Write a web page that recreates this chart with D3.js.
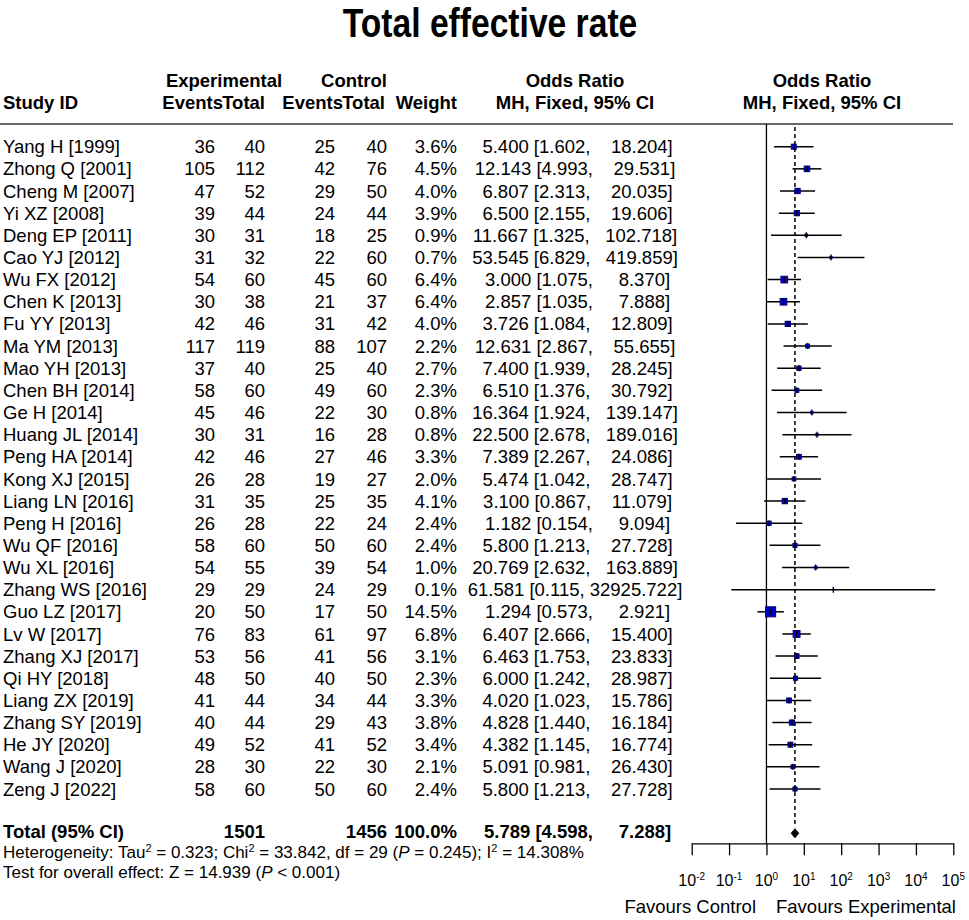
<!DOCTYPE html>
<html>
<head>
<meta charset="utf-8">
<script src="https://cdn.jsdelivr.net/npm/d3@7"></script>
<style>
  body { margin: 0; background: #fff; }
  svg { font-family: "Liberation Sans", Arial, Helvetica, sans-serif; font-size: 18.5px; }
  svg text { fill: #000; white-space: pre; }
</style>
</head>
<body>
<div id="chart"></div>
<script>
// data
const studies = ["Yang H [1999]", "Zhong Q [2001]", "Cheng M [2007]", "Yi XZ [2008]", "Deng EP [2011]",
  "Cao YJ [2012]", "Wu FX [2012]", "Chen K [2013]", "Fu YY [2013]", "Ma YM [2013]",
  "Mao YH [2013]", "Chen BH [2014]", "Ge H [2014]", "Huang JL [2014]", "Peng HA [2014]",
  "Kong XJ [2015]", "Liang LN [2016]", "Peng H [2016]", "Wu QF [2016]", "Wu XL [2016]",
  "Zhang WS [2016]", "Guo LZ [2017]", "Lv W [2017]", "Zhang XJ [2017]", "Qi HY [2018]",
  "Liang ZX [2019]", "Zhang SY [2019]", "He JY [2020]", "Wang J [2020]", "Zeng J [2022]"];
const expEvents = [36, 105, 47, 39, 30, 31, 54, 30, 42, 117, 37, 58, 45, 30, 42, 26, 31, 26, 58, 54, 29, 20, 76, 53, 48, 41, 40, 49, 28, 58];
const expTotal = [40, 112, 52, 44, 31, 32, 60, 38, 46, 119, 40, 60, 46, 31, 46, 28, 35, 28, 60, 55, 29, 50, 83, 56, 50, 44, 44, 52, 30, 60];
const ctrlEvents = [25, 42, 29, 24, 18, 22, 45, 21, 31, 88, 25, 49, 22, 16, 27, 19, 25, 22, 50, 39, 24, 17, 61, 41, 40, 34, 29, 41, 22, 50];
const ctrlTotal = [40, 76, 50, 44, 25, 60, 60, 37, 42, 107, 40, 60, 30, 28, 46, 27, 35, 24, 60, 54, 29, 50, 97, 56, 50, 44, 43, 52, 30, 60];
const weights = [3.6, 4.5, 4.0, 3.9, 0.9, 0.7, 6.4, 6.4, 4.0, 2.2, 2.7, 2.3, 0.8, 0.8, 3.3, 2.0, 4.1, 2.4, 2.4, 1.0, 0.1, 14.5, 6.8, 3.1, 2.3, 3.3, 3.8, 3.4, 2.1, 2.4];
const oddsRatio = [5.400, 12.143, 6.807, 6.500, 11.667, 53.545, 3.000, 2.857, 3.726, 12.631, 7.400, 6.510, 16.364, 22.500, 7.389, 5.474, 3.100, 1.182, 5.800, 20.769, 61.581, 1.294, 6.407, 6.463, 6.000, 4.020, 4.828, 4.382, 5.091, 5.800];
const ciLower = [1.602, 4.993, 2.313, 2.155, 1.325, 6.829, 1.075, 1.035, 1.084, 2.867, 1.939, 1.376, 1.924, 2.678, 2.267, 1.042, 0.867, 0.154, 1.213, 2.632, 0.115, 0.573, 2.666, 1.753, 1.242, 1.023, 1.440, 1.145, 0.981, 1.213];
const ciUpper = [18.204, 29.531, 20.035, 19.606, 102.718, 419.859, 8.370, 7.888, 12.809, 55.655, 28.245, 30.792, 139.147, 189.016, 24.086, 28.747, 11.079, 9.094, 27.728, 163.889, 32925.722, 2.921, 15.400, 23.833, 28.987, 15.786, 16.184, 16.774, 26.430, 27.728];
const pooled = { or: 5.789, lower: 4.598, upper: 7.288, expTotal: 1501, ctrlTotal: 1456, weight: 100.0 };
const tickValues = [1e-2, 1e-1, 1e0, 1e1, 1e2, 1e3, 1e4, 1e5];
const tickExps = ["-2", "-1", "0", "1", "2", "3", "4", "5"];

const width = 969, height = 920;

const svg = d3.select("#chart").append("svg")
  .attr("width", width)
  .attr("height", height);

svg.append("rect").attr("width", width).attr("height", height).attr("fill", "#fff");

const x = d3.scaleLog().domain([1e-2, 1e5]).range([691.7, 953.3]);
const y = d3.scaleLinear().domain([0, 29]).range([146.7, 789]);
const base = 6.6; // text baseline offset from row centre

// title
svg.append("text")
  .attr("transform", "translate(490,37) scale(0.82,1)")
  .attr("text-anchor", "middle")
  .style("font-size", "41px")
  .style("font-weight", "bold")
  .text("Total effective rate");

// headers
const head = svg.append("g").style("font-weight", "bold");
const hdr = [
  ["Experimental", 224, 87, "middle"], ["Control", 354, 87, "middle"],
  ["Odds Ratio", 575, 87, "middle"], ["Odds Ratio", 822, 87, "middle"],
  ["Study ID", 3, 109, "start"], ["Events", 223, 109, "end"], ["Total", 265, 109, "end"],
  ["Events", 343, 109, "end"], ["Total", 385, 109, "end"], ["Weight", 457, 109, "end"],
  ["MH, Fixed, 95% CI", 575, 109, "middle"], ["MH, Fixed, 95% CI", 822, 109, "middle"]
];
head.selectAll("text").data(hdr).enter().append("text")
  .attr("x", d => d[1]).attr("y", d => d[2])
  .attr("text-anchor", d => d[3])
  .text(d => d[0]);

svg.append("line")
  .attr("x1", 0).attr("x2", 953).attr("y1", 124).attr("y2", 124)
  .attr("stroke", "#333").attr("stroke-width", 1.5);

// table rows
const fmt = d3.format(".3f");
const pad = (s, n) => " ".repeat(Math.max(0, n - s.length)) + s;
const ciText = (o, l, u) => `${pad(fmt(o), 6)} [${pad(fmt(l), 5)}, ${pad(fmt(u), 9)}]`;

const rows = svg.append("g").selectAll("g")
  .data(studies)
  .enter().append("g")
  .attr("transform", (d, i) => `translate(0,${y(i) + base})`);

rows.append("text").attr("x", 3).text(d => d);
rows.append("text").attr("x", 215).attr("text-anchor", "end").text((d, i) => expEvents[i]);
rows.append("text").attr("x", 265).attr("text-anchor", "end").text((d, i) => expTotal[i]);
rows.append("text").attr("x", 335).attr("text-anchor", "end").text((d, i) => ctrlEvents[i]);
rows.append("text").attr("x", 387).attr("text-anchor", "end").text((d, i) => ctrlTotal[i]);
rows.append("text").attr("x", 457).attr("text-anchor", "end").text((d, i) => weights[i].toFixed(1) + "%");
rows.append("text").attr("x", 575).attr("text-anchor", "middle")
  .text((d, i) => ciText(oddsRatio[i], ciLower[i], ciUpper[i]));

// total row
const yTot = y(31);
const tot = svg.append("g").style("font-weight", "bold");
tot.append("text").attr("x", 3).attr("y", yTot + base - 1.5).text("Total (95% CI)");
tot.append("text").attr("x", 265).attr("y", yTot + base - 1.5).attr("text-anchor", "end").text(pooled.expTotal);
tot.append("text").attr("x", 387).attr("y", yTot + base - 1.5).attr("text-anchor", "end").text(pooled.ctrlTotal);
tot.append("text").attr("x", 457).attr("y", yTot + base - 1.5).attr("text-anchor", "end").text(pooled.weight.toFixed(1) + "%");
tot.append("text").attr("x", 575).attr("y", yTot + base - 1.5).attr("text-anchor", "middle")
  .text(ciText(pooled.or, pooled.lower, pooled.upper));

// footnotes
const het = svg.append("text").attr("x", 3).attr("y", 857.5).style("font-size", "17px");
het.append("tspan").text("Heterogeneity: Tau");
het.append("tspan").attr("dy", -6).style("font-size", "11px").text("2");
het.append("tspan").attr("dy", 6).text(" = 0.323; Chi");
het.append("tspan").attr("dy", -6).style("font-size", "11px").text("2");
het.append("tspan").attr("dy", 6).text(" = 33.842, df = 29 (");
het.append("tspan").style("font-style", "italic").text("P");
het.append("tspan").text(" = 0.245); I");
het.append("tspan").attr("dy", -6).style("font-size", "11px").text("2");
het.append("tspan").attr("dy", 6).text(" = 14.308%");

const tst = svg.append("text").attr("x", 3).attr("y", 878).style("font-size", "17px");
tst.append("tspan").text("Test for overall effect: Z = 14.939 (");
tst.append("tspan").style("font-style", "italic").text("P");
tst.append("tspan").text(" < 0.001)");

// forest plot
const axisY = 843.3;
svg.append("line")
  .attr("x1", x(1)).attr("x2", x(1)).attr("y1", 124).attr("y2", axisY)
  .attr("stroke", "#000").attr("stroke-width", 1.3);

svg.append("line")
  .attr("x1", x(pooled.or)).attr("x2", x(pooled.or)).attr("y1", 127).attr("y2", yTot - 6)
  .attr("stroke", "#000").attr("stroke-width", 1.5)
  .attr("stroke-dasharray", "4,3");

const marks = svg.append("g").selectAll("g")
  .data(studies)
  .enter().append("g")
  .attr("transform", (d, i) => `translate(0,${y(i)})`);

marks.append("line")
  .attr("x1", (d, i) => x(ciLower[i]))
  .attr("x2", (d, i) => x(ciUpper[i]))
  .attr("stroke", "#000").attr("stroke-width", 1.5);

const sq = w => 2.63 * Math.sqrt(w);
marks.append("rect")
  .attr("x", (d, i) => x(oddsRatio[i]) - sq(weights[i]) / 2)
  .attr("y", (d, i) => -sq(weights[i]) / 2)
  .attr("width", (d, i) => sq(weights[i]))
  .attr("height", (d, i) => sq(weights[i]))
  .attr("fill", "#0000c8")
  .attr("stroke", "#00007a").attr("stroke-width", 1);

marks.append("line")
  .attr("x1", (d, i) => x(oddsRatio[i]))
  .attr("x2", (d, i) => x(oddsRatio[i]))
  .attr("y1", -3).attr("y2", 3)
  .attr("stroke", "#000").attr("stroke-width", 1.3);

// pooled diamond
const dh = 4.5;
svg.append("path")
  .attr("d", `M${x(pooled.lower)},${yTot}L${x(pooled.or)},${yTot - dh}L${x(pooled.upper)},${yTot}L${x(pooled.or)},${yTot + dh}Z`)
  .attr("fill", "#000").attr("stroke", "#000").attr("stroke-width", 1);

// axis
const axis = svg.append("g")
  .attr("transform", `translate(0,${axisY})`)
  .call(d3.axisBottom(x).tickValues(tickValues).tickSize(12).tickSizeOuter(0).tickFormat(""));
axis.select(".domain").attr("stroke-width", 1.3);
axis.selectAll(".tick line").attr("stroke-width", 1.3);

const lbl = svg.append("g").selectAll("text")
  .data(tickValues)
  .enter().append("text")
  .attr("x", d => x(d))
  .attr("y", 886)
  .attr("text-anchor", "middle")
  .style("font-size", "16px");
lbl.append("tspan").text("10");
lbl.append("tspan").attr("dy", -6.5).style("font-size", "10px").text((d, i) => tickExps[i]);

svg.append("text").attr("x", 756).attr("y", 913).attr("text-anchor", "end").text("Favours Control");
svg.append("text").attr("x", 776).attr("y", 913).text("Favours Experimental");
</script>
</body>
</html>
